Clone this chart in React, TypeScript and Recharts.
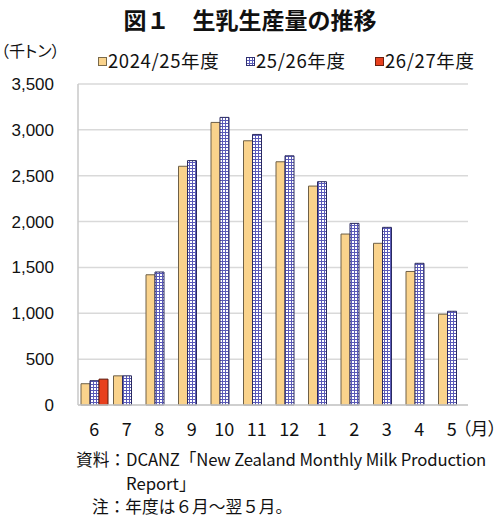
import React from 'react';
import { BarChart, Bar, XAxis, YAxis, CartesianGrid } from 'recharts';

const months = ['6', '7', '8', '9', '10', '11', '12', '1', '2', '3', '4', '5'];
const fy2024 = [232, 318, 1420, 2603, 3081, 2881, 2652, 2387, 1864, 1763, 1456, 990];
const fy2025 = [265, 318, 1450, 2665, 3136, 2950, 2717, 2435, 1980, 1937, 1545, 1022];
const fy2026: (number | null)[] = [282, null, null, null, null, null, null, null, null, null, null, null];
const yTicks = [0, 500, 1000, 1500, 2000, 2500, 3000, 3500];

const data = months.map((m, i) => ({
  month: m,
  a: fy2024[i],
  b: fy2025[i],
  c: fy2026[i],
}));

const jp = '"Noto Sans CJK JP", sans-serif';

const legendItems = [
  { label: '2024/25年度', fill: '#FAD38C', stroke: '#7a6a4a', x: 98 },
  { label: '25/26年度', fill: 'url(#grid)', stroke: '#303070', x: 246 },
  { label: '26/27年度', fill: '#E8401E', stroke: '#6a2010', x: 375 },
];

export default function App() {
  return (
    <div style={{ position: 'absolute', left: 0, top: 0, width: 500, height: 518, background: '#fff', fontFamily: jp, color: '#111', overflow: 'hidden' }}>
      <div style={{ position: 'absolute', top: 4, left: 0, width: 500, textAlign: 'center', fontSize: 23, fontWeight: 'bold', lineHeight: '30px' }}>
        図１　生乳生産量の推移
      </div>
      <div style={{ position: 'absolute', top: 39, left: 1, fontSize: 16, lineHeight: '22px', fontFeatureSettings: '"palt"' }}>（千トン）</div>
      <svg style={{ position: 'absolute', left: 0, top: 0 }} width={500} height={80}>
        <defs>
          <pattern id="grid" width={3} height={3} patternUnits="userSpaceOnUse">
            <rect width={3} height={3} fill="#ffffff" />
            <rect width={3} height={1} fill="#5a5ab8" />
            <rect width={1} height={3} fill="#5a5ab8" />
          </pattern>
        </defs>
        {legendItems.map((it) => (
          <g key={it.label}>
            <rect x={it.x + 0.5} y={57.5} width={8} height={8} fill={it.fill} stroke={it.stroke} strokeWidth={1} />
            <text x={it.x + 10} y={67.5} fontSize={18.5} letterSpacing={0.6} fontFamily={jp} fill="#111">{it.label}</text>
          </g>
        ))}
      </svg>
      <div style={{ position: 'absolute', left: 0, top: 0 }}>
        <BarChart
          width={500}
          height={445}
          data={data}
          margin={{ top: 84, right: 32, bottom: 10, left: 0 }}
          barCategoryGap={3}
          barGap={0}
        >
          <defs>
            <pattern id="gridBar" width={3} height={3} patternUnits="userSpaceOnUse">
              <rect width={3} height={3} fill="#ffffff" />
              <rect width={3} height={1} fill="#5a5ab8" />
              <rect width={1} height={3} fill="#5a5ab8" />
            </pattern>
          </defs>
          <CartesianGrid vertical={false} stroke="#d9d9d9" strokeWidth={1.5} />
          <XAxis
            dataKey="month"
            height={30}
            tickLine={false}
            tickSize={0}
            tickMargin={18}
            axisLine={{ stroke: '#c8c8c8', strokeWidth: 1.5 }}
            tick={{ fontSize: 18, fill: '#111', fontFamily: jp }}
            interval={0}
          />
          <YAxis
            width={78}
            domain={[0, 3500]}
            ticks={yTicks}
            tickLine={false}
            tickSize={0}
            tickMargin={24}
            axisLine={{ stroke: '#c8c8c8', strokeWidth: 1.5 }}
            tickFormatter={(v: number) => v.toLocaleString('en-US')}
            tick={{ fontSize: 17, fill: '#111', fontFamily: '"Liberation Sans", Arial, sans-serif' }}
          />
          <Bar dataKey="a" barSize={9} fill="#FAD38C" stroke="#6e6048" strokeWidth={1} isAnimationActive={false} />
          <Bar dataKey="b" barSize={9} fill="url(#gridBar)" stroke="#2a2a60" strokeWidth={1} isAnimationActive={false} />
          <Bar dataKey="c" barSize={9} fill="#E8401E" stroke="#5a1a0c" strokeWidth={1} isAnimationActive={false} />
        </BarChart>
      </div>
      <div style={{ position: 'absolute', left: 462, top: 416, fontSize: 17.5, lineHeight: '24px', fontFeatureSettings: '"palt"' }}>（月）</div>
      <div style={{ position: 'absolute', left: 76, top: 448, fontSize: 16.7, lineHeight: '23.5px', whiteSpace: 'nowrap' }}>
        <div>資料：<span style={{ letterSpacing: -0.15 }}>DCANZ「New Zealand Monthly Milk Production</span></div>
        <div style={{ paddingLeft: 50 }}>Report」</div>
        <div style={{ paddingLeft: 16 }}>注：年度は６月～翌５月。</div>
      </div>
    </div>
  );
}
